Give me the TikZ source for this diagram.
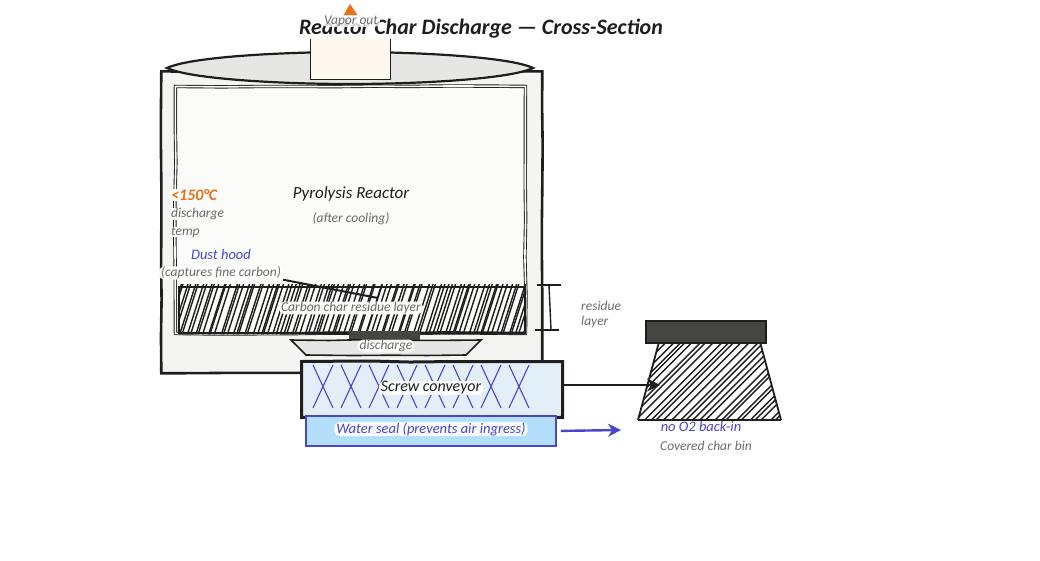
\documentclass[tikz,border=0pt]{standalone}
\usepackage{fontspec}
\setmainfont{Carlito}
\usetikzlibrary{arrows.meta,decorations.pathmorphing}
\definecolor{inkblack}{HTML}{1E1E1E}
\definecolor{inkgray}{HTML}{6B6B66}
\definecolor{inkblue}{HTML}{4A45D0}
\definecolor{inkorange}{HTML}{E8701A}
\definecolor{shellfill}{HTML}{F4F4F2}
\definecolor{chamberfill}{HTML}{FBFBF9}
\definecolor{domefill}{HTML}{E6E6E5}
\definecolor{neckfill}{HTML}{FDF7EE}
\definecolor{screwfill}{HTML}{E3EFF8}
\definecolor{sealfill}{HTML}{B3DFFC}
\definecolor{lidfill}{HTML}{454542}
\tikzset{
  rough/.style={decorate, decoration={random steps, segment length=38pt, amplitude=0.6pt}},
  wall/.style={draw=inkblack, line width=2.6pt, rough},
  thinwall/.style={draw=inkblack, line width=0.9pt, rough},
  box/.style={rectangle, inner sep=0pt, anchor=north west},
  hatchline/.style={inkblack, line width=1.4pt, line cap=round},
  halo/.style={fill=white, fill opacity=0.95, text opacity=1, rounded corners=5pt, inner xsep=2pt, inner ysep=0.5pt},
  head/.style={font=\itshape\fontsize{17}{19}\selectfont, text=inkblack},
  note/.style={font=\itshape\fontsize{13.5}{15}\selectfont, text=inkgray},
  bluenote/.style={font=\itshape\fontsize{14.5}{17}\selectfont, text=inkblue},
  flow/.style={line width=2.4pt, -{Stealth[length=13pt,width=13pt]}},
  screwline/.style={inkblue, line width=1.1pt}
}
% diagonal strokes: first x, next x, last x, lean, bottom y, top y
\newcommand{\hatchrun}[6]{%
  \foreach \hx in {#1,#2,...,#3} {
    \pgfmathsetmacro{\hjit}{\hx+rand*2}
    \draw[hatchline] (\hjit,#5) -- ++(#4,#6-#5);
  }}
\begin{document}
\begin{tikzpicture}[x=1pt,y=-1pt]
  \pgfmathsetseed{41}
  \useasboundingbox (0,0) rectangle (1040,560);

  \node[font=\itshape\bfseries\fontsize{22}{24}\selectfont, text=inkblack] (title) at (481,29) {Reactor Char Discharge — Cross-Section};

  % reactor shell and chamber
  \node[box, wall, fill=shellfill, minimum width=381pt, minimum height=302pt] (shell) at (160,70) {};
  \node[box, thinwall, double=chamberfill, double distance=1.6pt, fill=chamberfill, minimum width=350pt, minimum height=247pt] (chamber) at (175,86) {};
  \draw[draw=inkblack, line width=2.2pt, fill=domefill] (167,68) .. controls (190,57) and (280,52) .. (350,52)
    .. controls (420,52) and (510,57) .. (533,68)
    .. controls (510,79) and (420,84) .. (350,84)
    .. controls (280,84) and (190,79) .. (167,68) -- cycle;
  \node[box, fill=white, minimum width=84pt, minimum height=6pt] (neckgap) at (308,34) {};
  \node[box, fill=neckfill, minimum width=80pt, minimum height=40pt] (neck) at (310,39) {};
  \draw[inkblack, line width=0.8pt] (neck.north west) -- (neck.south west) -- (neck.south east) -- (neck.north east);

  % vapor outlet
  \coordinate (tip) at (350,4);
  \fill[inkorange] (tip) -- (358,16) -- (343,16) -- cycle;
  \node[note, halo, fill opacity=0.8] (vapor) at (351,21) {Vapor out};

  % residue layer
  \node[box, draw=inkblack, line width=1.8pt, minimum width=346pt, minimum height=46pt] (residue) at (178,286) {};
  \begin{scope}
    \clip ([yshift=2pt]residue.north west) rectangle ([yshift=-1pt]residue.south east);
    \hatchrun{160}{164}{530}{16}{334}{284}
  \end{scope}
  \node[note, halo] (char) at (351,308) {Carbon char residue layer};

  % dust hood
  \node[bluenote] (hood) at (221,255) {Dust hood};
  \node[note, halo] (hoodnote) at (221,273) {(captures fine carbon)};
  \coordinate (hoodend) at (378,298);
  \draw[inkblack, line width=2pt] (hoodnote.south east) -- (hoodend);

  % temperature and reactor labels
  \node[font=\itshape\bfseries\fontsize{16}{18}\selectfont, text=inkorange, anchor=west, inner sep=0pt, fill=chamberfill] (temp) at (171,195) {<150°C};
  \node[note, anchor=west, inner sep=0pt, fill=chamberfill] (templine) at (171,214) {discharge};
  \node[note, anchor=west, inner sep=0pt, fill=chamberfill] (templinetwo) at (171,232) {temp};
  \node[head] (reactor) at (351,194) {Pyrolysis Reactor};
  \node[note] (cooling) at (351,219) {(after cooling)};

  % residue dimension mark
  \coordinate (dimtop) at (549,285);
  \coordinate (dimbot) at (551,330);
  \draw[inkblack, line width=1.4pt] (dimtop) -- (dimbot);
  \draw[inkblack, line width=1.4pt] (537,285) -- (561,285);
  \draw[inkblack, line width=1.4pt] (535,330) -- (559,330);
  \node[note, anchor=west, inner sep=0pt] (dimone) at (581,306) {residue};
  \node[note, anchor=west, inner sep=0pt] (dimtwo) at (581,322) {layer};

  % discharge funnel
  \node[box, fill=lidfill, minimum width=71pt, minimum height=11pt] (gate) at (349,331) {};
  \draw[thinwall, line width=1.6pt, fill=domefill] (291,340) -- (481,340) -- (466,355) -- (306,355) -- cycle;
  \node[note, halo] (discharge) at (386,346) {discharge};

  % screw conveyor
  \node[box, wall, line width=3pt, fill=screwfill, minimum width=261pt, minimum height=56pt] (screw) at (300,360) {};
  \foreach \sx in {313,341,...,510} {
    \draw[screwline] (\sx,365) -- (\sx+20,408);
    \draw[screwline] (\sx+20,365) -- (\sx,408);
  }
  \node[head, halo, fill opacity=0.92, font=\itshape\fontsize{16}{18}\selectfont] (screwlabel) at (431,388) {Screw conveyor};

  % water seal
  \node[box, draw=inkblue, line width=1.8pt, fill=sealfill, minimum width=250pt, minimum height=30pt] (seal) at (305,415) {};
  \node[bluenote, halo, fill opacity=0.92] (seallabel) at (431,429) {Water seal (prevents air ingress)};

  % char bin
  \coordinate (binnw) at (659,342);
  \coordinate (binne) at (760,342);
  \coordinate (binse) at (781,420);
  \coordinate (binsw) at (638,420);
  \begin{scope}
    \clip (binnw) -- (binne) -- (binse) -- (binsw) -- cycle;
    \hatchrun{560}{567}{790}{78}{420}{342}
  \end{scope}
  \draw[inkblack, line width=1.8pt] (binsw) -- (binnw);
  \draw[inkblack, line width=1.8pt] (binne) -- (binse);
  \draw[inkblack, line width=1.8pt] (binsw) -- (binse);
  \node[box, draw=inkblack, line width=1.6pt, fill=lidfill, minimum width=120pt, minimum height=22pt] (lid) at (645,320) {};
  \node[bluenote, inner sep=1pt, fill=white] (backin) at (701,427) {no O2 back-in};
  \node[note] (binlabel) at (706,446) {Covered char bin};

  % outflows
  \coordinate (binentry) at (660,385);
  \coordinate (sealend) at (621,430);
  \draw[flow, inkblack] (screw.east |- binentry) -- (binentry);
  \draw[flow, inkblue] (seal.east) ++(4,0) -- (sealend);
\end{tikzpicture}
\end{document}
